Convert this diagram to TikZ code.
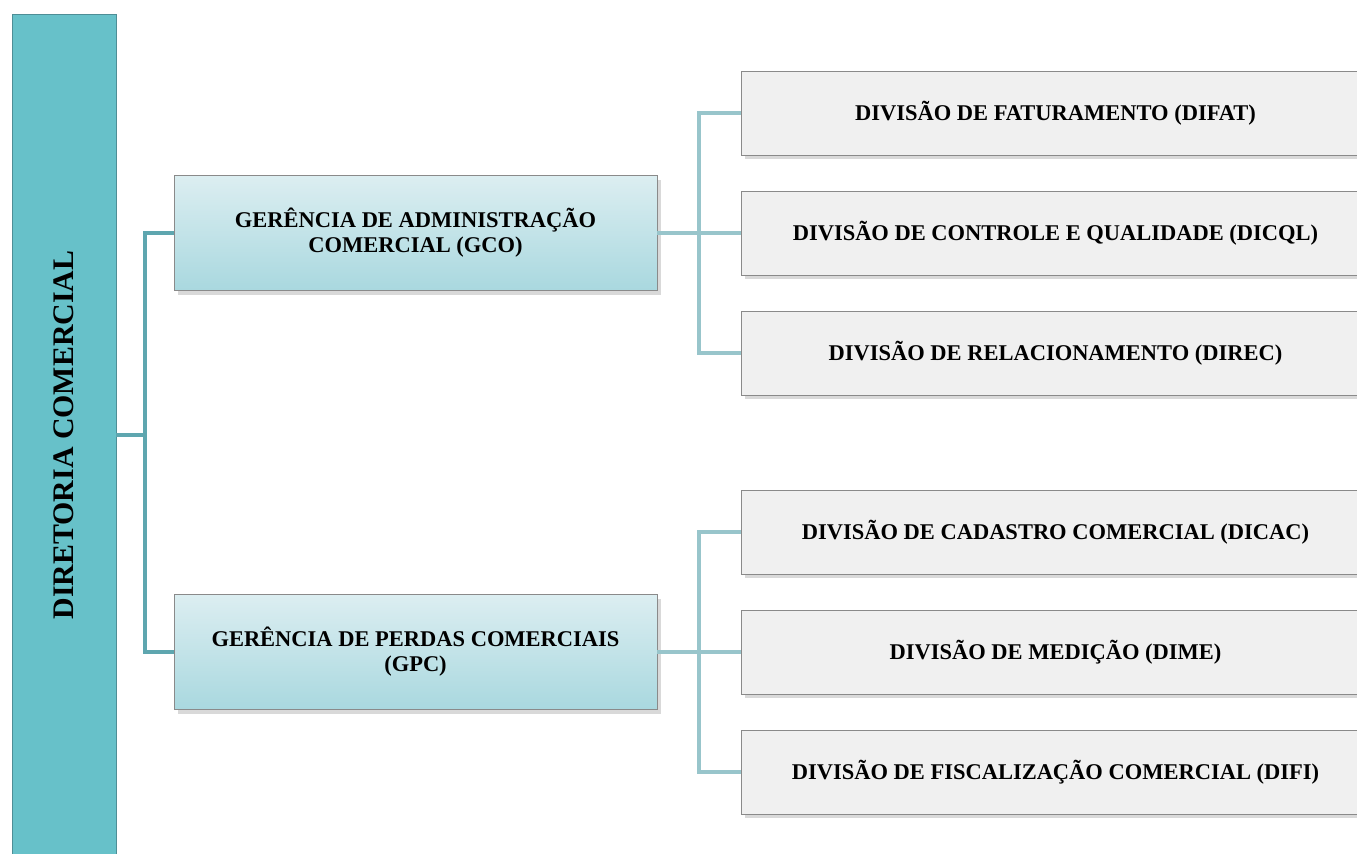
\documentclass[tikz,border=0pt]{standalone}
\usepackage{fontspec}
\setmainfont{Liberation Serif}
\usetikzlibrary{shadows}
\definecolor{barteal}{HTML}{67C1C9}
\definecolor{barline}{HTML}{4E8E96}
\definecolor{gertop}{HTML}{DCEEF1}
\definecolor{gerbot}{HTML}{A9D8DF}
\definecolor{divfill}{HTML}{F0F0F0}
\definecolor{boxline}{HTML}{8A8A8A}
\definecolor{linkdark}{HTML}{5EA6AF}
\definecolor{linklight}{HTML}{98C5CB}

\tikzset{
  dirbox/.style={draw=barline, fill=barteal, rotate=90, minimum width=16.84cm,
    minimum height=2.08cm, inner sep=0pt, font=\fontsize{17}{20}\selectfont\bfseries},
  gerbox/.style={draw=boxline, top color=gertop, bottom color=gerbot, minimum width=9.66cm,
    minimum height=2.3cm, inner sep=0pt, align=center, drop shadow={opacity=0.3},
    font=\fontsize{12.8}{14.2}\selectfont\bfseries},
  divbox/.style={draw=boxline, fill=divfill, minimum width=12.58cm, minimum height=1.68cm,
    inner sep=0pt, drop shadow={opacity=0.3}, font=\fontsize{12.8}{14}\selectfont\bfseries},
  linkl/.style={draw=linkdark, line width=2.2pt},
  linkr/.style={draw=linklight, line width=2.2pt}
}

\begin{document}
\begin{tikzpicture}[x=0.02cm, y=-0.02cm]
  %%%%% START %%%%%
  \useasboundingbox (0,0) rectangle (1357,853);

  \node[dirbox] (dir) at (64,435) {DIRETORIA COMERCIAL};

  \node[gerbox] (gco) at (415.5,233) {GERÊNCIA DE ADMINISTRAÇÃO\\COMERCIAL (GCO)};
  \node[gerbox] (gpc) at (415.5,652) {GERÊNCIA DE PERDAS COMERCIAIS\\(GPC)};

  \node[divbox] (difat) at (1055.5,113) {DIVISÃO DE FATURAMENTO (DIFAT)};
  \node[divbox] (dicql) at (1055.5,233) {DIVISÃO DE CONTROLE E QUALIDADE (DICQL)};
  \node[divbox] (direc) at (1055.5,353) {DIVISÃO DE RELACIONAMENTO (DIREC)};
  \node[divbox] (dicac) at (1055.5,532) {DIVISÃO DE CADASTRO COMERCIAL (DICAC)};
  \node[divbox] (dime) at (1055.5,652) {DIVISÃO DE MEDIÇÃO (DIME)};
  \node[divbox] (difi) at (1055.5,772) {DIVISÃO DE FISCALIZAÇÃO COMERCIAL (DIFI)};

  \coordinate (jdir) at (145,435);
  \coordinate (jgco) at (699,233);
  \coordinate (jgpc) at (699,652);

  % diretoria -> gerencias
  \draw[linkl] (dir.south) -- (jdir);
  \draw[linkl] (gco.west) -| (jdir) |- (gpc.west);

  % gerencias -> divisoes
  \draw[linkr] (gco.east) -- (dicql.west);
  \draw[linkr] (difat.west) -| (jgco) |- (direc.west);
  \draw[linkr] (gpc.east) -- (dime.west);
  \draw[linkr] (dicac.west) -| (jgpc) |- (difi.west);
  %%%%% END %%%%%
\end{tikzpicture}
\end{document}
